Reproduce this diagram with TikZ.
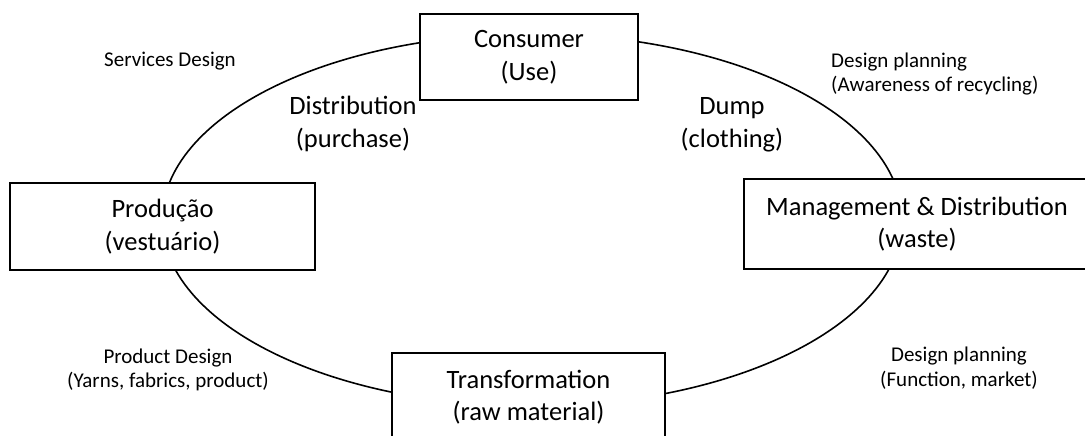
\documentclass[tikz,border=0pt]{standalone}
\usepackage{fontspec}
\setmainfont{Carlito}
\usetikzlibrary{shapes.geometric}
\begin{document}
\begin{tikzpicture}[x=1pt,y=-1pt,
  stagebox/.style={draw=black,line width=1.8pt,fill=white,rectangle,align=center,inner sep=0pt,
    font=\fontsize{26.5}{32.5}\selectfont},
  midlabel/.style={align=center,font=\fontsize{26.5}{32.5}\selectfont,inner sep=0pt},
  sidelabel/.style={align=center,font=\fontsize{21}{24.5}\selectfont,inner sep=0pt},
  cyc/.style={draw=black,line width=1.6pt,ellipse,inner sep=0pt}]
\useasboundingbox (0,0) rectangle (1085,436);
\node[cyc,minimum width=740pt,minimum height=372pt] (cycle) at (532,220) {};
\node[stagebox,minimum width=218pt,minimum height=86pt] (consumer) at (529,57) {Consumer\\(Use)};
\node[stagebox,minimum width=305pt,minimum height=87pt] (producao) at (162.5,226.5) {Produção\\(vestuário)};
\node[stagebox,minimum width=346pt,minimum height=90pt] (management) at (917,224) {Management \& Distribution\\(waste)};
\node[stagebox,minimum width=273pt,minimum height=88pt] (transformation) at (528.5,397) {Transformation\\(raw material)};
\node[midlabel] (distribution) at (353,124) {Distribution\\(purchase)};
\node[midlabel] (dump) at (732,125) {Dump\\(clothing)};
\node[sidelabel] (services) at (170,61) {Services Design};
\node[sidelabel,align=left,anchor=west] (awareness) at (831,74) {Design planning\\(Awareness of recycling)};
\node[sidelabel] (product) at (168,370) {Product Design\\(Yarns, fabrics, product)};
\node[sidelabel] (function) at (959,368) {Design planning\\(Function, market)};
\end{tikzpicture}
\end{document}
